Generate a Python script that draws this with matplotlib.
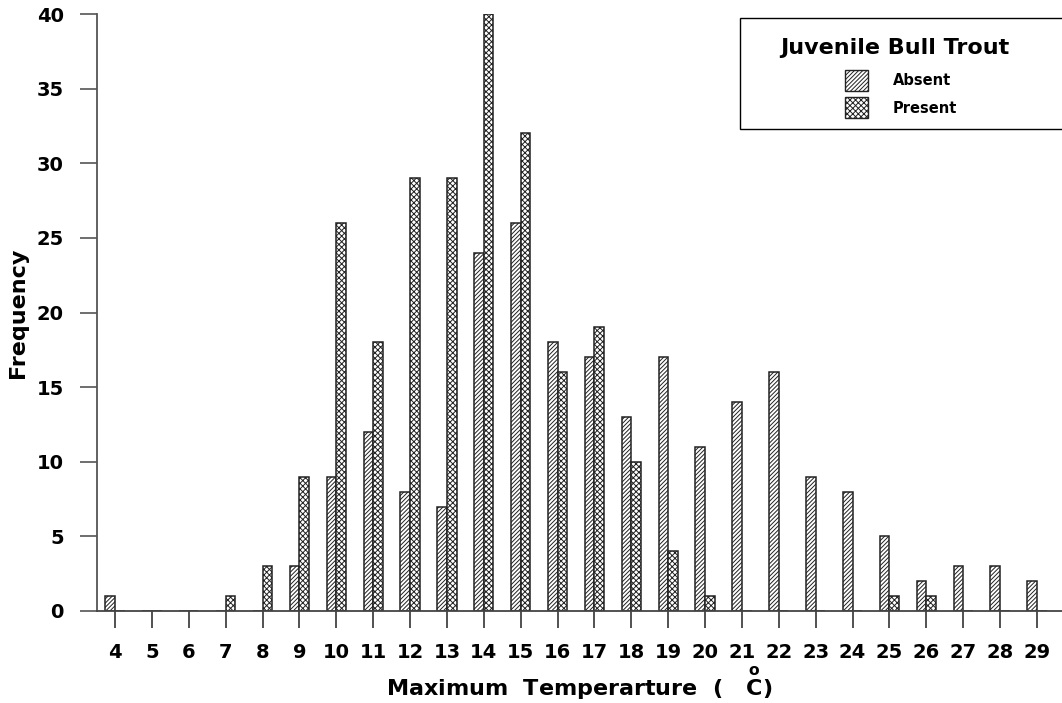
import numpy as np
import matplotlib.pyplot as plt
from matplotlib.patches import Rectangle

# Max temperature bins (deg C) and counts
temps = np.arange(4, 30)
absent = [1, 0, 0, 0, 0, 3, 9, 12, 8, 7, 24, 26, 18, 17, 13, 17, 11, 14, 16, 9, 8, 5, 2, 3, 3, 2]
present = [0, 0, 0, 1, 3, 9, 26, 18, 29, 29, 40, 32, 16, 19, 10, 4, 1, 0, 0, 0, 0, 1, 1, 0, 0, 0]
yticks = list(range(0, 41, 5))

plt.rcParams['font.family'] = 'DejaVu Sans'
plt.rcParams['font.weight'] = 'bold'
plt.rcParams['mathtext.fontset'] = 'dejavusans'
plt.rcParams['hatch.color'] = '#555555'
plt.rcParams['hatch.linewidth'] = 0.7

fig = plt.figure(figsize=(10.62, 7.03), dpi=100)
ax = fig.add_axes([97 / 1062, 1 - 611 / 703, 965 / 1062, 597 / 703])

w = 0.26
ax.bar(temps - w / 2, absent, width=w, color='white', edgecolor='#222222',
       linewidth=1.1, hatch='////////', label='Absent')
ax.bar(temps + w / 2, present, width=w, color='white', edgecolor='#222222',
       linewidth=1.1, hatch='xxxxxx', label='Present')

ax.set_xlim(3.51, 29.68)
ax.set_ylim(0, 40)
ax.set_xticks(temps)
ax.set_yticks(yticks)
ax.tick_params(axis='x', length=12, width=1.2, color='#333333', pad=11, labelsize=14)
ax.tick_params(axis='y', length=12, width=1.2, color='#555555', pad=12, labelsize=14)
for lab in ax.get_xticklabels() + ax.get_yticklabels():
    lab.set_fontweight('heavy')

for s in ['top', 'right']:
    ax.spines[s].set_visible(False)
ax.spines['left'].set_color('#555555')
ax.spines['left'].set_linewidth(1.3)
ax.spines['bottom'].set_color('#444444')
ax.spines['bottom'].set_linewidth(1.3)

ax.set_ylabel('Frequency', fontsize=16, fontweight='heavy', labelpad=6)
ax.set_xlabel(r'Maximum  Temperarture  (   $\overset{\mathbf{o}}{\mathbf{C}}$)', fontsize=16,
              fontweight='heavy', labelpad=2)

# legend box
ax.add_patch(Rectangle((0.666, 0.807), 0.36, 0.186, transform=ax.transAxes,
                       facecolor='white', edgecolor='black', linewidth=1.0,
                       clip_on=False, zorder=5))
ax.text(0.827, 0.943, 'Juvenile Bull Trout', transform=ax.transAxes, ha='center',
        va='center', fontsize=16, fontweight='heavy', zorder=6)
ax.add_patch(Rectangle((0.775, 0.871), 0.024, 0.035, transform=ax.transAxes,
                       facecolor='white', edgecolor='#222222', hatch='////////',
                       linewidth=1.0, zorder=6))
ax.add_patch(Rectangle((0.775, 0.826), 0.024, 0.035, transform=ax.transAxes,
                       facecolor='white', edgecolor='#222222', hatch='xxxxxx',
                       linewidth=1.0, zorder=6))
ax.text(0.825, 0.889, 'Absent', transform=ax.transAxes, va='center',
        fontsize=10.5, fontweight='heavy', zorder=6)
ax.text(0.825, 0.8425, 'Present', transform=ax.transAxes, va='center',
        fontsize=10.5, fontweight='heavy', zorder=6)

fig.savefig('out.png', dpi=100)
